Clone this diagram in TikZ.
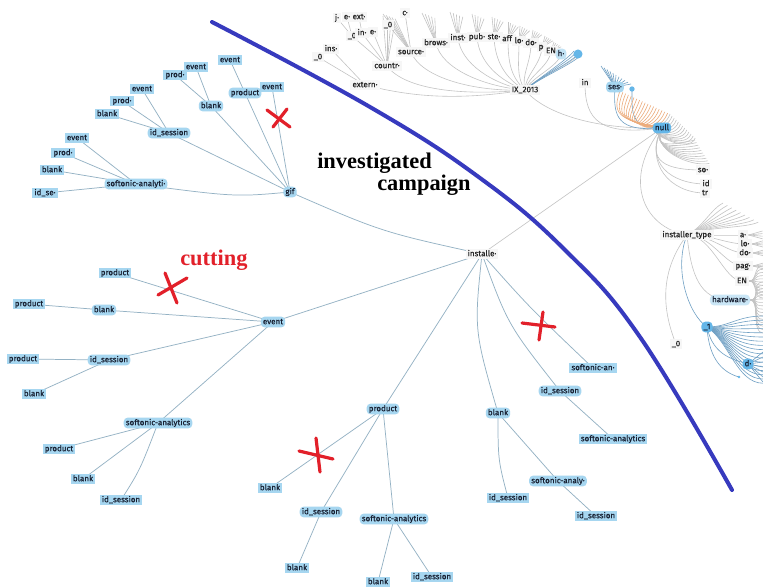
\documentclass[tikz,border=0pt]{standalone}
\usepackage{fontspec}
\setmainfont{Liberation Serif}
\newfontfamily\labfont[FakeBold=0.45]{Fira Sans}
\usetikzlibrary{calc}
\pgfdeclarelayer{paper}
\pgfdeclarelayer{links}
\pgfsetlayers{paper,links,main}

\definecolor{nodeblue}{RGB}{166,214,240}
\definecolor{deepblue}{RGB}{100,182,232}
\definecolor{linkblue}{RGB}{148,178,196}
\definecolor{linkgrey}{RGB}{196,196,196}
\definecolor{labtext}{RGB}{24,32,50}
\definecolor{cutblue}{RGB}{55,58,190}
\definecolor{markred}{RGB}{226,32,42}
\definecolor{fanorange}{RGB}{236,172,124}
\definecolor{fanblue}{RGB}{112,160,196}

\tikzset{
  lab/.style={font=\labfont\fontsize{6}{6}\selectfont, text=labtext,
    inner xsep=1.6pt, inner ysep=1.1pt, text height=4.6pt, text depth=1.3pt},
  leaf/.style={lab, fill=nodeblue},
  inner/.style={lab, fill=nodeblue, rounded corners=3pt},
  hot/.style={lab, fill=deepblue, rounded corners=3pt},
  glab/.style={lab, fill=gray!7, text=black!85},
  link/.style={draw=linkblue, line width=0.55pt},
  glink/.style={draw=linkgrey, line width=0.45pt},
  blink/.style={draw=fanblue, line width=0.45pt},
  olink/.style={draw=fanorange, line width=0.45pt},
  cross/.style={draw=markred, line width=2.4pt, line cap=round},
  note/.style={font=\bfseries\fontsize{16.8}{18}\selectfont, anchor=base west, inner sep=0pt}
}

\begin{document}
\begin{tikzpicture}[x=0.75pt,y=-0.75pt]
\useasboundingbox (0,0) rectangle (763,586);
\begin{pgfonlayer}{paper}
  \fill[white] (0,0) rectangle (763,586);
\end{pgfonlayer}

% ---------- gif branch ----------
\node[inner] (gif)   at (290,192) {gif};
\node[inner] (gsa)   at (136,184) {softonic-analyti·};
\node[leaf]  (gsaid) at (45,193)  {id\_se·};
\node[leaf]  (gsabl) at (52,170)  {blank};
\node[leaf]  (gsapr) at (63,153)  {prod·};
\node[leaf]  (gsaev) at (77,138)  {event};
\node[inner] (gis)   at (169,133) {id\_session};
\node[leaf]  (gisbl) at (107,114) {blank};
\node[leaf]  (gispr) at (122,101) {prod·};
\node[leaf]  (gisev) at (142,89)  {event};
\node[inner] (gbl)   at (211,106) {blank};
\node[leaf]  (gblpr) at (175,75)  {prod·};
\node[leaf]  (gblev) at (196,67)  {event};
\node[inner] (gpr)   at (245,93)  {product};
\node[leaf]  (gprev) at (230,60)  {event};
\node[leaf]  (gev)   at (272,87)  {event};

% ---------- event branch ----------
\node[inner] (ev)   at (273,322) {event};
\node[leaf]  (evp)  at (115,273) {product};
\node[inner] (evb)  at (104,310) {blank};
\node[leaf]  (evbp) at (29,304)  {product};
\node[inner] (evi)  at (109,360) {id\_session};
\node[leaf]  (evip) at (23,359)  {product};
\node[leaf]  (evib) at (34,394)  {blank};
\node[inner] (evs)  at (158,423) {softonic-analytics};
\node[leaf]  (evsp) at (59,449)  {product};
\node[leaf]  (evsb) at (83,479)  {blank};
\node[leaf]  (evsi) at (121,500) {id\_session};

% ---------- product branch ----------
\node[inner] (pd)   at (383,409) {product};
\node[leaf]  (pdb)  at (270,488) {blank};
\node[inner] (pdi)  at (321,512) {id\_session};
\node[leaf]  (pdib) at (297,568) {blank};
\node[inner] (pds)  at (394,519) {softonic-analytics};
\node[leaf]  (pdsb) at (378,582) {blank};
\node[leaf]  (pdsi) at (432,577) {id\_session};

% ---------- right branch ----------
\node[leaf]  (rsa)  at (593,368) {softonic-an·};
\node[inner] (ris)  at (560,391) {id\_session};
\node[leaf]  (risa) at (613,439) {softonic-analytics};
\node[inner] (rb)   at (498,413) {blank};
\node[inner] (rbs)  at (558,481) {softonic-analy·};
\node[leaf]  (rbi)  at (508,498) {id\_session};
\node[leaf]  (rbsi) at (596,516) {id\_session};

\node[glab] (inst) at (482,254) {installe·};

% ---------- null hub ----------
\node[hot]  (null) at (662,128) {null};
\node[glab] (nin)  at (585,83)  {in};
\node[inner] (ses) at (615,87)  {ses·};
\node[circle, fill=deepblue, inner sep=1.4pt] (nbd) at (632,89) {};
\node[glab] (nso)  at (703,170) {so·};
\node[glab] (nid)  at (706,184) {id};
\node[glab] (ntr)  at (705,193) {tr};

% ---------- IX_2013 ----------
\node[glab] (ix)    at (525,90) {IX\_2013};
\node[glab] (ext)   at (365,85) {extern·};
\node[glab] (ext0)  at (318,57) {\_0};
\node[glab] (extin) at (331,49) {ins·};
\node[glab] (cou)   at (387,66) {countr·};
\node[glab] (cou0)  at (352,36) {\_0};
\node[glab] (couin) at (362,33) {in·};
\node[glab] (coue)  at (373,32) {e·};
\node[glab] (cj)    at (337,18) {j·};
\node[glab] (ce)    at (347,17) {e·};
\node[glab] (cext)  at (359,17) {ext·};
\node[glab] (src)   at (411,52) {source·};
\node[glab] (src0)  at (388,25) {\_0};
\node[glab] (srcc)  at (405,13) {c·};
\node[glab] (brw)   at (436,43) {brows·};
\node[glab] (ins)   at (458,38) {inst·};
\node[glab] (pub)   at (477,37) {pub·};
\node[glab] (ste)   at (494,37) {ste·};
\node[glab] (aff)   at (508,39) {aff·};
\node[glab] (tlo)   at (519,41) {lo·};
\node[glab] (tdo)   at (531,43) {do·};
\node[glab] (tp)    at (542,47) {p·};
\node[glab] (ten)   at (551,51) {EN};
\node[inner, fill=nodeblue!70] (th) at (561,54) {h·};
\node[circle, fill=deepblue, inner sep=2.4pt] (ixb) at (578,54) {};

% ---------- installer_type ----------
\node[glab] (it)    at (687,235) {installer\_type};
\node[glab] (ita)   at (743,235) {a·};
\node[glab] (itlo)  at (745,244) {lo·};
\node[glab] (itdo)  at (745,253) {do·};
\node[glab] (itpag) at (743,266) {pag·};
\node[glab] (iten)  at (742,281) {EN};
\node[inner, fill=nodeblue!60] (ithw) at (730,300) {hardware·};
\node[hot]  (it1)   at (707,327) {\_1};
\node[glab] (it0)   at (676,344) {\_0};
\node[hot]  (itd)   at (748,364) {d·};

\begin{pgfonlayer}{links}
  % blue tree links
  \foreach \a/\b in {gif/gis, gif/gbl, gif/gpr, gpr/gprev, gif/gev,
      gsa/gsaid, gsa/gsabl, gsa/gsapr, gsa/gsaev,
      gis/gisbl, gis/gispr, gis/gisev, gbl/gblpr, gbl/gblev,
      inst/ev, ev/evp, ev/evb, evb/evbp, ev/evi, evi/evip, evi/evib,
      ev/evs, evs/evsp, evs/evsb,
      inst/pd, pd/pdb, pd/pdi, pdi/pdib, pd/pds, pds/pdsb, pds/pdsi,
      ris/risa, rb/rbs, rbs/rbsi}
    \draw[link] (\a.center) -- (\b.center);
  \draw[link] (gif.center) .. controls (235,197) .. (gsa.center);
  \draw[link] (evs.center) .. controls (140,470) .. (evsi.center);
  \draw[link] (inst.center) .. controls (382,232) .. (gif.center);
  \draw[link] (inst.center) .. controls (474,330) .. (rb.center);
  \draw[link] (inst.center) .. controls (508,325) .. (ris.center);
  \draw[link] (inst.center) .. controls (530,308) .. (rsa.center);
  \draw[link] (rb.center) .. controls (498,460) .. (rbi.center);

  % grey hub links
  \draw[glink] (inst.center) -- (null.center);
  \draw[glink] (null.center) .. controls +(-70,2) and +(18,22) .. (ix.center);
  \draw[glink] (null.center) .. controls +(-62,8) and +(0,38) .. (nin.center);
  \draw[blink] (null.center) .. controls +(-45,4) and +(-2,30) .. (ses.center);
  \draw[blink] (null.center) .. controls +(-32,0) and +(0,25) .. (nbd.center);
  \foreach \n in {nso,nid,ntr}
    \draw[glink] (null.center) .. controls +(-18,35) and +(-35,0) .. (\n.center);
  \draw[glink] (null.center) .. controls +(-40,50) and +(-45,-8) .. (it.center);

  % orange and grey leaves above null
  \foreach \i in {0,...,17} {
    \coordinate (nf\i) at ({620+\i*2.8},{91+\i*1.3});
    \draw[olink] (null.center) .. controls +(-38,-8) and +(-10,26) .. (nf\i);
  }
  \foreach \i in {0,...,12} {
    \coordinate (ng\i) at ({670+\i*2.1},{114+\i*2.0});
    \draw[glink] (null.center) .. controls +(-25,0) and +(-6,18) .. (ng\i);
  }
  \foreach \i in {0,...,9} {
    \coordinate (nh\i) at ({695+\i*1.6},{140+\i*2.6});
    \draw[glink] (null.center) .. controls +(-12,22) and +(-18,4) .. (nh\i);
  }
  % ses leaves
  \foreach \k in {0,...,10} {
    \coordinate (sf\k) at ({601+\k*3.0},{66+\k*1.8});
    \draw[blink] (ses.center) -- (sf\k);
  }

  % IX_2013 links
  \foreach \c/\ax/\ay/\bx/\by in {ext/-75/12/40/10, cou/-62/6/18/24, src/-50/2/10/26,
      brw/-40/-3/5/26, ins/-32/-6/3/26, pub/-25/-9/2/26, ste/-19/-11/1/25,
      aff/-14/-13/0/24, tlo/-9/-14/0/22, tdo/-4/-15/0/20, tp/0/-15/-1/18,
      ten/4/-15/-2/16, th/8/-14/-3/13, ixb/12/-14/-4/10}
    \draw[glink] (ix.center) .. controls +(\ax,\ay) and +(\bx,\by) .. (\c.center);
  \foreach \k in {0,...,3}
    \draw[blink] (ix.center) .. controls +(14,-12) and +(-6,8) .. ($(ixb)+({-4+\k*2},{-3+\k*1.5})$);
  \foreach \a/\b in {ext/ext0, ext/extin, cou/cou0, cou/couin, cou/coue,
      cou0/cj, cou0/ce, couin/cext, src/src0, src/srcc}
    \draw[glink] (\a.center) -- (\b.center);
  % small leaf fans over the IX children
  \foreach \n/\dx/\dy/\s in {src/-28/-38/3, brw/-14/-30/3.2, ins/-8/-26/3.2, pub/-5/-23/3,
      ste/-2/-20/2.8, aff/0/-17/2.6, tlo/1/-15/2.4, tdo/2/-13/2.2, tp/3/-11/2, ten/3/-9/1.8}
    \foreach \k in {0,...,4}
      \draw[glink] (\n.center) -- ($(\n.center)+({\dx+\k*\s},{\dy+\k*1.2})$);
  \foreach \k in {0,...,3}
    \draw[glink] (cou.center) -- ($(cou.center)+({-4+\k*4},{-50+\k*2})$);

  % installer_type links
  \foreach \k in {0,...,8} {
    \coordinate (iu\k) at ({723+\k*4.4},{203+\k*2.4});
    \draw[glink] (it.center) .. controls +(16,-8) and +(-12,6) .. (iu\k);
  }
  \foreach \n in {ita,itlo,itdo,itpag,iten}
    \draw[glink] (it.center) .. controls +(25,0) and +(-18,0) .. (\n.center);
  \foreach \n in {ita,itlo,itdo,itpag}
    \foreach \k in {0,...,3}
      \draw[glink] (\n.east) -- ($(\n.east)+(14,{-4+\k*2.6})$);
  \draw[glink] (it.center) .. controls +(4,40) and +(-30,0) .. (ithw.center);
  \draw[blink] (it.center) .. controls +(-14,35) and +(-18,-12) .. (it1.center);
  \draw[glink] (it.center) .. controls +(-30,40) and +(-12,-30) .. (it0.center);
  \foreach \k in {0,...,10} {
    \coordinate (ie\k) at (763,{266+\k*3.2});
    \draw[glink] (iten.east) .. controls +(8,0) and +(-10,0) .. (ie\k);
  }
  \foreach \k in {0,...,15} {
    \coordinate (iw\k) at (763,{282+\k*3.4});
    \draw[glink] (ithw.east) .. controls +(10,0) and +(-12,0) .. (iw\k);
  }
  \foreach \k in {0,...,16} {
    \coordinate (iv\k) at (763,{316+\k*4.2});
    \draw[blink] (it1.center) .. controls +(22,{\k*0.9}) and +(-26,0) .. (iv\k);
  }
  \draw[blink] (it1.center) .. controls +(6,30) and +(-12,-4) .. (itd.center);
  \coordinate (iend) at (739,377);
  \draw[blink] (it1.center) .. controls +(2,35) and +(-14,-4) .. (iend);
  \fill[deepblue] (iend) circle (1.4);
  \foreach \k in {0,...,6} {
    \coordinate (id\k) at (763,{352+\k*5});
    \draw[blink] (itd.center) -- (id\k);
  }
\end{pgfonlayer}

% ---------- cut line ----------
\draw[cutblue, line width=3pt, line cap=round] plot[smooth, tension=0.7] coordinates
  {(212,22) (370,107) (480,178) (565,250) (640,337) (732,490)};

% ---------- annotations ----------
\node[note] (lbinv)  at (317,168) {investigated};
\node[note] (lbcamp) at (377,190) {campaign};
\node[note, text=markred] (lbcut) at (180,265) {cutting};

% ---------- cut marks ----------
\draw[cross] (267,110) -- (290,127);
\draw[cross] (287,109) -- (273,127);
\draw[cross] (158,295) -- (187,278);
\draw[cross] (165,273) -- (177,303);
\draw[cross] (522,323) -- (555,327);
\draw[cross] (543,312) -- (539,340);
\draw[cross] (299,451) -- (333,459);
\draw[cross] (316,438) -- (320,472);
\end{tikzpicture}
\end{document}
